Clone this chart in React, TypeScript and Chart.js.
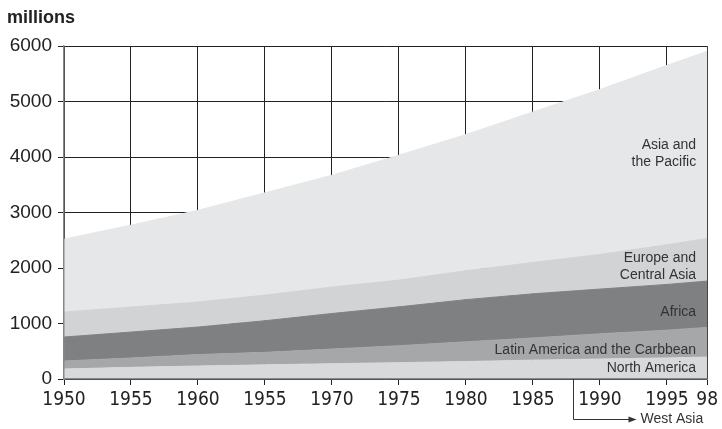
import React, { useEffect, useRef } from "react";
import { Chart, registerables } from "chart.js";

Chart.register(...registerables);

// ---- data ----
const YEARS = [1950, 1955, 1960, 1965, 1970, 1975, 1980, 1985, 1990, 1995, 1998];
const X_TICKS = [1950, 1955, 1960, 1965, 1970, 1975, 1980, 1985, 1990, 1995, 1998];
const X_TICK_LABELS = ["1950", "1955", "1960", "1955", "1970", "1975", "1980", "1985", "1990", "1995", "98"];

const NORTH_AMERICA = [180, 210, 234, 255, 276, 295, 315, 340, 360, 380, 395];
const LATIN_AMERICA = [144, 168, 206, 225, 264, 305, 355, 400, 455, 500, 535];
const AFRICA = [432, 468, 496, 570, 640, 700, 760, 795, 805, 824, 834];
const EUROPE_CENTRAL_ASIA = [450, 450, 450, 462, 476, 482, 520, 565, 624, 714, 769];
const ASIA_PACIFIC = [1314, 1476, 1654, 1842, 2016, 2250, 2455, 2712, 2971, 3234, 3371];

const SERIES_NAMES = [
  "North America",
  "Latin America and the Carbbean",
  "Africa",
  "Europe and Central Asia",
  "Asia and the Pacific",
];

const TITLE = "millions";
const WEST_ASIA = "West Asia";

const pts = (vals: number[]) => vals.map((v, i) => ({ x: YEARS[i], y: v }));

const SANS = "'Liberation Sans', Arial, sans-serif";
const NARROW = "'Liberation Sans Narrow', 'DejaVu Sans Condensed', sans-serif";

const annotations = {
  id: "annotations",
  afterDraw(chart: any) {
    const { ctx, chartArea, scales } = chart;
    const xs = scales.x;
    const ys = scales.y;
    ctx.save();

    // right frame line
    const rx = Math.round(chartArea.right) + 0.5;
    ctx.strokeStyle = "#444";
    ctx.lineWidth = 1;
    ctx.beginPath();
    ctx.moveTo(rx, chartArea.top);
    ctx.lineTo(rx, chartArea.bottom);
    ctx.stroke();

    // title
    ctx.fillStyle = "#222";
    ctx.font = `bold 18px ${SANS}`;
    ctx.textAlign = "left";
    ctx.textBaseline = "middle";
    ctx.fillText(TITLE, 7, 18);

    // region labels
    ctx.font = `14px ${SANS}`;
    ctx.fillStyle = "#333";
    ctx.textAlign = "right";
    const lx = chartArea.right - 11;
    const lbl = (t: string, v: number) => ctx.fillText(t, lx, ys.getPixelForValue(v));
    lbl("Asia and", 4212);
    lbl("the Pacific", 3906);
    lbl("Europe and", 2178);
    lbl("Central Asia", 1872);
    lbl(SERIES_NAMES[2], 1206);
    lbl(SERIES_NAMES[1], 522);
    lbl(SERIES_NAMES[0], 198);

    // West Asia pointer
    const ax = Math.round(xs.getPixelForValue(1988)) + 0.5;
    const ay = chartArea.bottom + 40.5;
    const ex = ax + 63;
    ctx.strokeStyle = "#333";
    ctx.beginPath();
    ctx.moveTo(ax, chartArea.bottom);
    ctx.lineTo(ax, ay);
    ctx.lineTo(ex - 6, ay);
    ctx.stroke();
    ctx.fillStyle = "#333";
    ctx.beginPath();
    ctx.moveTo(ex, ay);
    ctx.lineTo(ex - 8, ay - 3);
    ctx.lineTo(ex - 8, ay + 3);
    ctx.closePath();
    ctx.fill();
    ctx.textAlign = "left";
    ctx.font = `14px ${SANS}`;
    ctx.fillText(WEST_ASIA, ex + 4, ay);

    ctx.restore();
  },
};

export default function App() {
  const ref = useRef<HTMLCanvasElement | null>(null);

  useEffect(() => {
    if (!ref.current) return;
    const colors = ["#d8d9db", "#a6a7a9", "#7f8082", "#d2d3d5", "#e6e7e9"];
    const seriesVals = [NORTH_AMERICA, LATIN_AMERICA, AFRICA, EUROPE_CENTRAL_ASIA, ASIA_PACIFIC];
    const chart = new Chart(ref.current, {
      type: "line",
      data: {
        datasets: seriesVals.map((vals, i) => ({
          label: SERIES_NAMES[i],
          data: pts(vals),
          backgroundColor: colors[i],
          borderWidth: 1,
          borderColor: colors[i],
          pointRadius: 0,
          tension: 0,
          fill: i === 0 ? "origin" : "-1",
        })),
      },
      options: {
        animation: false,
        responsive: false,
        layout: { padding: { top: 46, right: 10, bottom: 0, left: 0 } },
        plugins: {
          legend: { display: false },
          tooltip: { enabled: false },
          title: { display: false },
        },
        scales: {
          x: {
            type: "linear",
            min: 1950,
            max: 1998,
            afterBuildTicks: (scale: any) => {
              scale.ticks = X_TICKS.map((v) => ({ value: v }));
            },
            afterFit: (scale: any) => {
              scale.height = 50;
            },
            ticks: {
              autoSkip: false,
              maxRotation: 0,
              padding: 4,
              color: "#222",
              font: { family: NARROW, size: 19 },
              callback: (_v: any, i: number) => X_TICK_LABELS[i],
            },
            grid: { color: "#222", lineWidth: 1, tickLength: 6, drawTicks: true },
            border: { display: true, color: "#888", width: 1.5, z: 1 },
          },
          y: {
            stacked: true,
            min: 0,
            max: 6000,
            afterFit: (scale: any) => {
              scale.width = 64;
            },
            ticks: {
              stepSize: 1000,
              padding: 6,
              color: "#222",
              font: { family: SANS, size: 19 },
              callback: (v: any) => String(v),
            },
            grid: { color: "#222", lineWidth: 1, tickLength: 6, drawTicks: true },
            border: { display: true, color: "#888", width: 1.5, z: 1 },
          },
        },
      },
      plugins: [annotations],
    } as any);
    return () => chart.destroy();
  }, []);

  return (
    <div style={{ position: "fixed", left: 0, top: 0, width: 722, height: 429, background: "#fff" }}>
      <canvas ref={ref} width={722} height={429} style={{ display: "block" }} />
    </div>
  );
}
